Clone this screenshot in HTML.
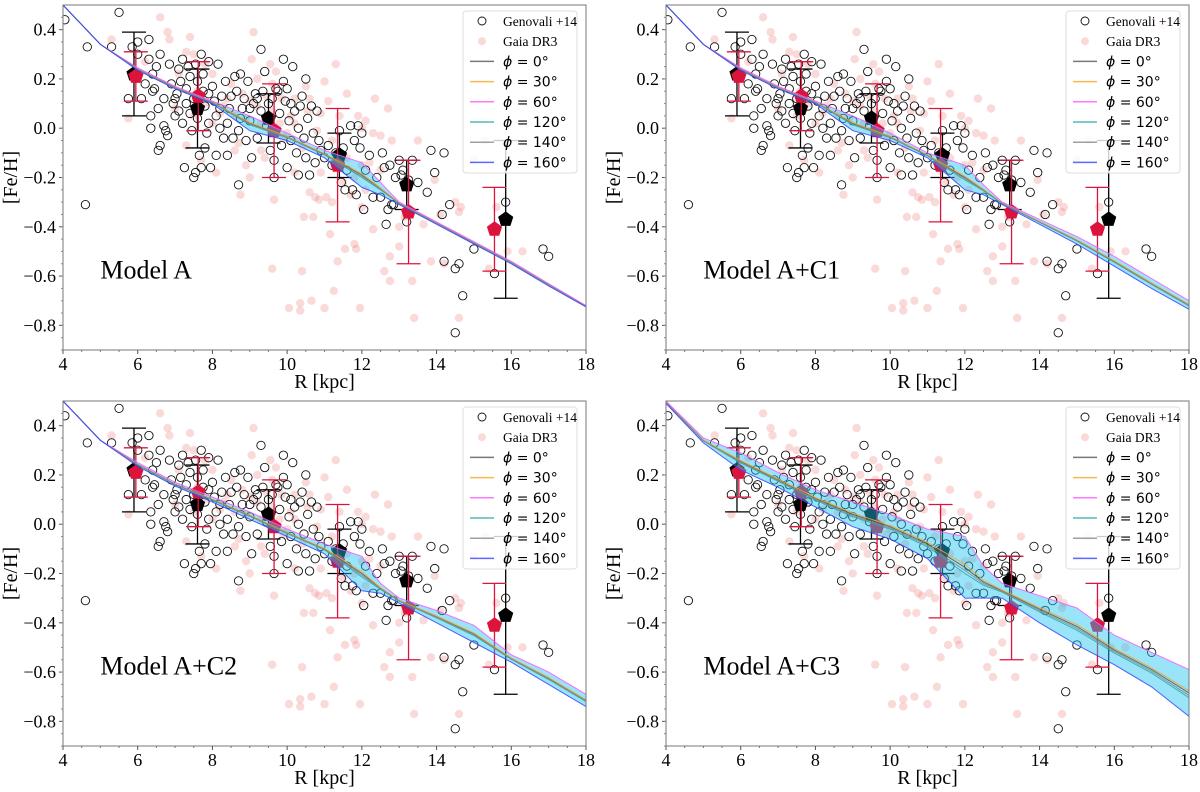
<!DOCTYPE html>
<html><head><meta charset="utf-8">
<style>
html,body{margin:0;padding:0;background:#fff;}
svg{display:block;}
</style></head>
<body>
<svg id="fig" width="1200" height="792" viewBox="0 0 1200 792" xmlns="http://www.w3.org/2000/svg"></svg>
<script>
// ---------------- data ----------------
const genovali = [[4.05,0.44],[4.65,0.33],[4.6,-0.31],[5.5,0.47],[5.3,0.33],[5.75,0.12],[5.85,0.33],[6.0,0.35],[6.0,0.30],[6.1,0.12],[6.2,0.18],[6.3,0.36],[6.3,0.28],[6.35,0.05],[6.35,0.0],[6.4,0.15],[6.4,0.22],[6.5,0.25],[6.55,0.08],[6.6,0.30],[6.55,-0.09],[6.6,-0.07],[6.7,0.01],[6.8,-0.03],[6.75,-0.01],[6.85,0.26],[6.7,0.12],[6.9,0.18],[6.95,0.10],[7.0,0.05],[7.05,0.14],[7.1,0.24],[7.15,0.19],[7.2,0.28],[7.2,0.02],[7.25,-0.16],[7.3,0.10],[7.3,0.16],[7.35,0.25],[7.4,0.21],[7.4,0.06],[7.45,-0.01],[7.5,-0.20],[7.55,-0.18],[7.5,0.12],[7.55,0.26],[7.6,0.19],[7.6,0.04],[7.65,-0.11],[7.7,-0.16],[7.7,0.30],[7.75,0.22],[7.75,0.15],[7.8,0.09],[7.8,-0.08],[7.85,-0.02],[7.9,0.27],[7.9,0.02],[7.95,-0.16],[8.0,0.17],[8.05,0.11],[8.1,0.05],[8.1,-0.11],[8.15,0.26],[8.2,0.0],[8.25,0.13],[8.3,-0.04],[8.35,0.19],[8.4,-0.11],[8.45,0.08],[8.5,0.13],[8.55,-0.04],[8.6,0.21],[8.65,0.15],[8.7,-0.01],[8.7,-0.23],[8.75,0.22],[8.8,0.08],[8.85,0.12],[8.9,-0.05],[8.95,0.19],[9.0,0.03],[9.05,-0.12],[9.1,0.1],[9.15,0.14],[9.2,-0.04],[9.3,0.32],[9.3,0.07],[9.35,0.15],[9.4,0.23],[9.45,0.01],[9.5,0.10],[9.55,-0.09],[9.6,0.12],[9.65,-0.20],[9.65,-0.13],[9.7,0.16],[9.75,0.15],[9.8,0.06],[9.85,-0.07],[9.9,0.28],[9.9,0.19],[9.95,0.11],[10.0,0.16],[10.0,-0.16],[10.05,0.03],[10.1,-0.05],[10.15,0.25],[10.2,0.07],[10.25,-0.1],[10.3,-0.19],[10.35,0.09],[10.4,0.13],[10.45,-0.04],[10.5,0.20],[10.5,-0.12],[10.55,0.04],[10.6,-0.19],[10.65,0.09],[10.7,-0.02],[10.75,-0.14],[10.8,0.07],[10.85,-0.05],[10.9,-0.09],[11.0,-0.12],[11.1,-0.07],[11.2,-0.15],[11.3,-0.10],[11.4,-0.01],[11.45,-0.22],[11.5,-0.08],[11.55,-0.25],[11.6,-0.17],[11.7,0.01],[11.75,-0.25],[11.8,-0.05],[11.85,-0.27],[11.9,0.01],[11.95,-0.08],[12.0,-0.02],[12.05,-0.33],[12.1,-0.17],[12.2,-0.11],[12.3,-0.28],[12.4,-0.20],[12.5,-0.28],[12.55,-0.10],[12.6,-0.16],[12.65,-0.39],[12.7,-0.33],[12.75,-0.15],[12.8,-0.31],[12.85,-0.31],[12.9,-0.20],[13.0,-0.13],[13.05,-0.19],[13.1,-0.17],[13.2,-0.38],[13.25,-0.21],[13.35,-0.13],[13.5,-0.22],[13.75,-0.26],[13.85,-0.09],[13.95,-0.18],[14.15,-0.35],[14.2,-0.10],[14.2,-0.54],[14.35,-0.31],[14.5,-0.57],[14.6,-0.55],[14.5,-0.83],[14.7,-0.68],[15.0,-0.49],[15.55,-0.59],[15.85,-0.30],[16.85,-0.49],[17.0,-0.52],[7.0,0.12],[7.1,0.07],[7.6,0.12],[8.2,0.08],[8.4,0.02],[9.0,0.08],[9.2,0.12],[7.9,0.14],[6.45,0.16],[8.75,0.04],[10.3,0.0],[10.1,0.1]];
const gaia = [[5.3,0.36],[5.75,0.04],[6.2,0.27],[6.6,0.45],[6.8,0.39],[6.85,0.36],[7.1,0.22],[7.3,0.31],[7.4,0.37],[7.5,0.30],[7.6,0.15],[7.8,0.26],[8.0,0.22],[8.1,-0.18],[8.2,0.06],[8.4,0.12],[8.5,0.18],[8.6,-0.09],[8.75,-0.27],[8.9,0.04],[9.0,-0.2],[9.05,0.28],[9.1,0.39],[9.2,0.09],[9.3,-0.09],[9.45,0.13],[9.55,0.26],[9.6,-0.57],[9.65,-0.29],[9.7,0.23],[9.8,0.02],[9.85,0.12],[10.0,-0.02],[10.05,-0.73],[10.1,0.05],[10.2,-0.18],[10.35,-0.71],[10.35,-0.74],[10.4,-0.58],[10.45,-0.36],[10.5,0.17],[10.55,0.07],[10.6,-0.26],[10.65,-0.70],[10.7,-0.36],[10.75,-0.28],[10.85,-0.29],[10.9,0.06],[11.0,0.19],[11.0,-0.73],[11.05,-0.28],[11.1,0.11],[11.15,-0.43],[11.2,-0.30],[11.25,-0.66],[11.3,0.26],[11.35,-0.54],[11.5,-0.22],[11.55,-0.49],[11.6,0.14],[11.7,-0.27],[11.8,-0.47],[11.85,-0.49],[11.9,0.05],[11.95,-0.73],[12.0,-0.32],[12.1,0.03],[12.2,-0.14],[12.3,-0.41],[12.35,0.12],[12.5,-0.03],[12.6,-0.58],[12.7,0.08],[12.75,-0.52],[12.75,-0.62],[12.8,-0.05],[13.0,-0.40],[13.0,-0.48],[13.15,-0.36],[13.35,-0.62],[13.4,-0.77],[13.5,-0.05],[13.65,-0.39],[13.85,-0.54],[13.95,-0.21],[14.1,-0.35],[14.2,-0.55],[14.5,-0.30],[14.6,-0.34],[14.6,-0.77],[14.65,-0.32],[15.0,-0.13],[15.3,-0.05],[15.4,-0.57],[15.6,-0.32],[15.9,-0.50],[16.3,-0.50],[16.85,-0.10],[17.3,0.42],[7.0,0.08],[7.5,0.05],[8.0,0.02],[8.3,0.09],[8.6,0.05],[9.0,0.11],[9.3,0.02],[9.6,0.07],[9.9,-0.04],[10.2,0.02],[10.4,-0.08],[10.8,-0.01],[11.2,-0.05],[11.6,-0.12],[12.0,-0.15],[12.3,-0.02],[12.0,0.0],[11.8,-0.2],[12.5,-0.17],[10.2,0.12],[9.6,0.18],[8.8,0.14],[7.8,0.1],[7.3,-0.07],[7.7,-0.13],[8.9,-0.15],[9.4,-0.12],[10.6,0.12],[11.4,0.05],[12.1,-0.25],[10.9,-0.18],[9.2,0.2],[8.7,-0.06]];
const binBlackR = [5.9,7.6,9.5,11.4,13.2,15.85];
const binBlackFe = [0.22,0.08,0.04,-0.11,-0.23,-0.37];
const binBlackErr = [0.17,0.16,0.10,0.09,0.10,0.32];
const binRedR = [5.95,7.62,9.65,11.35,13.25,15.55];
const binRedFe = [0.21,0.13,-0.01,-0.15,-0.34,-0.41];
const binRedErr = [0.10,0.14,0.19,0.23,0.21,0.17];
const modelR = [4,5,6,7,8,9,10,11,12,12.5,13,14,15,16,17,18];
const upperA  = [0.50,0.34,0.245,0.17,0.11,0.05,-0.02,-0.09,-0.14,-0.22,-0.30,-0.38,-0.46,-0.54,-0.63,-0.72];
const lowerA  = [0.50,0.34,0.235,0.16,0.10,-0.01,-0.05,-0.12,-0.24,-0.27,-0.31,-0.39,-0.47,-0.55,-0.64,-0.725];
const upperC1 = [0.50,0.34,0.245,0.17,0.11,0.05,-0.02,-0.10,-0.15,-0.23,-0.30,-0.37,-0.44,-0.52,-0.61,-0.70];
const lowerC1 = [0.50,0.34,0.235,0.16,0.10,-0.01,-0.05,-0.12,-0.25,-0.27,-0.31,-0.39,-0.47,-0.56,-0.65,-0.735];
const upperC2 = [0.50,0.34,0.25,0.17,0.11,0.05,-0.02,-0.08,-0.13,-0.24,-0.30,-0.35,-0.41,-0.53,-0.60,-0.69];
const lowerC2 = [0.50,0.34,0.235,0.155,0.09,0.02,-0.05,-0.12,-0.27,-0.28,-0.32,-0.40,-0.48,-0.56,-0.65,-0.74];
const upperC3 = [0.50,0.35,0.29,0.21,0.14,0.09,0.04,-0.02,-0.05,-0.17,-0.24,-0.29,-0.34,-0.45,-0.52,-0.59];
const lowerC3 = [0.49,0.33,0.22,0.15,0.07,-0.01,-0.06,-0.14,-0.30,-0.30,-0.30,-0.40,-0.49,-0.57,-0.66,-0.78];
const xTicks = [4,6,8,10,12,14,16,18];
const yTicks = [0.4,0.2,0.0,-0.2,-0.4,-0.6,-0.8];
const yTickLabels = ["0.4","0.2","0.0","\u22120.2","\u22120.4","\u22120.6","\u22120.8"];
const modelNames = ["Model A","Model A+C1","Model A+C2","Model A+C3"];
const legendPhi = ["0","30","60","120","140","160"];
const phiColors = ["#555555","#f5a623","#ff55ff","#2aa8a8","#888888","#3344ff"];
const phiMix = [0.5,0.45,0.0,0.6,0.55,1.0];

const NS = "http://www.w3.org/2000/svg";
const svg = document.getElementById('fig');
function mk(tag, attrs, parent){
  const e = document.createElementNS(NS, tag);
  for (const k in attrs) e.setAttribute(k, attrs[k]);
  (parent||svg).appendChild(e);
  return e;
}
const panels = [
  {x0:63,x1:586,y0:5,y1:350,up:upperA,lo:lowerA},
  {x0:666,x1:1189,y0:5,y1:350,up:upperC1,lo:lowerC1},
  {x0:63,x1:586,y0:401,y1:746,up:upperC2,lo:lowerC2},
  {x0:666,x1:1189,y0:401,y1:746,up:upperC3,lo:lowerC3}
];
const SERIF = '"Liberation Serif", serif';

panels.forEach((p, pi) => {
  const g = mk('g', {});
  
  
  const sx = v => p.x0 + (v-4)/(18-4)*(p.x1-p.x0);
  const sy = v => p.y0 + (0.5-v)/(1.4)*(p.y1-p.y0);
  const clipId = 'clip'+pi;
  const cp = mk('clipPath', {id:clipId}, g);
  mk('rect', {x:p.x0, y:p.y0, width:p.x1-p.x0, height:p.y1-p.y0}, cp);
  const plot = mk('g', {'clip-path':'url(#'+clipId+')'}, g);
  
  

  gaia.forEach(d => {
    const c = mk('circle', {cx:sx(d[0]), cy:sy(d[1]), r:4.2, fill:'#f08080', 'fill-opacity':0.3}, plot);
    
    
  });
  genovali.forEach(d => {
    const c = mk('circle', {cx:sx(d[0]), cy:sy(d[1]), r:4.2, fill:'none', stroke:'#111', 'stroke-width':0.9}, plot);
    
    
  });
  function pent(cx, cy, r){
    let pts=[];
    for(let k=0;k<5;k++){const a=-Math.PI/2+k*2*Math.PI/5; pts.push((cx+r*Math.cos(a)).toFixed(1)+','+(cy+r*Math.sin(a)).toFixed(1));}
    return pts.join(' ');
  }
  function bins(R, F, E, col, name){
    R.forEach((r,i)=>{
      const x=sx(r), yt=sy(F[i]+E[i]), yb=sy(F[i]-E[i]);
      const eb = mk('g', {stroke:col,'stroke-width':1.3}, plot);
      
      
      mk('line',{x1:x,y1:yt,x2:x,y2:yb},eb);
      mk('line',{x1:x-12,y1:yt,x2:x+12,y2:yt},eb);
      mk('line',{x1:x-12,y1:yb,x2:x+12,y2:yb},eb);
      const pg = mk('polygon',{points:pent(x,sy(F[i]),8),fill:col},plot);
      
      
    });
  }
  bins(binBlackR, binBlackFe, binBlackErr, '#000', 'genovali');
  bins(binRedR, binRedFe, binRedErr, '#dc143c', 'gaia');

  let d = modelR.map((r,i)=>(i?'L':'M')+sx(r).toFixed(1)+','+sy(p.up[i]).toFixed(1)).join(' ');
  for(let i=modelR.length-1;i>=0;i--) d += ' L'+sx(modelR[i]).toFixed(1)+','+sy(p.lo[i]).toFixed(1);
  const band = mk('path',{d:d+' Z',fill:'#1cc4f0','fill-opacity':0.45,stroke:'none'},plot);
  
  
  phiColors.forEach((col,k)=>{
    const m = phiMix[k];
    const ld = modelR.map((r,i)=>(i?'L':'M')+sx(r).toFixed(1)+','+sy(p.up[i]*(1-m)+p.lo[i]*m).toFixed(1)).join(' ');
    const ln = mk('path',{d:ld,fill:'none',stroke:col,'stroke-width':1,'stroke-opacity':0.85},plot);
    
    
  });

  const fr = mk('rect',{x:p.x0,y:p.y0,width:p.x1-p.x0,height:p.y1-p.y0,fill:'none',stroke:'#777','stroke-width':1},g);
  
  
  xTicks.forEach(t=>{
    const x=sx(t);
    mk('line',{x1:x,y1:p.y1,x2:x,y2:p.y1+4,stroke:'#555'},g);
    const tx=mk('text',{x:x,y:p.y1+20,'text-anchor':'middle','font-family':SERIF,'font-size':18,fill:'#000'},g);
    tx.textContent=t;
    
    
  });
  for(let t=4;t<=18;t+=0.5){ if(t%2) mk('line',{x1:sx(t),y1:p.y1,x2:sx(t),y2:p.y1+2,stroke:'#777'},g); }
  yTicks.forEach((t,i)=>{
    const y=sy(t);
    mk('line',{x1:p.x0-4,y1:y,x2:p.x0,y2:y,stroke:'#555'},g);
    const tx=mk('text',{x:p.x0-7,y:y+6,'text-anchor':'end','font-family':SERIF,'font-size':18,fill:'#000'},g);
    tx.textContent=yTickLabels[i];
    
    
  });
  for(let t=-0.9;t<=0.5;t+=0.05){ mk('line',{x1:p.x0-2,y1:sy(t),x2:p.x0,y2:sy(t),stroke:'#888'},g); }
  const xl=mk('text',{x:(p.x0+p.x1)/2,y:p.y1+38,'text-anchor':'middle','font-family':SERIF,'font-size':20},g);
  xl.textContent='R [kpc]';
  
  
  const yx=p.x0-46, yy=(p.y0+p.y1)/2;
  const yl=mk('text',{x:yx,y:yy,'text-anchor':'middle','font-family':SERIF,'font-size':20,transform:'rotate(-90 '+yx+' '+yy+')'},g);
  yl.textContent='[Fe/H]';
  
  
  const mn=mk('text',{x:sx(5.0),y:sy(-0.61),'font-family':SERIF,'font-size':26},g);
  mn.textContent=modelNames[pi];
  
  

  const lg = mk('g',{},g);
  
  
  const lx=p.x1-123, ly=p.y0+6;
  mk('rect',{x:lx,y:ly,width:114,height:162,rx:3,fill:'#fff','fill-opacity':0.8,stroke:'#ddd'},lg);
  const rowY = k => ly+10+k*20.2;
  mk('circle',{cx:lx+19,cy:rowY(0),r:4,fill:'none',stroke:'#111','stroke-width':0.9},lg);
  let t=mk('text',{x:lx+40,y:rowY(0)+5,'font-family':SERIF,'font-size':13.5},lg); t.textContent='Genovali +14';
  mk('circle',{cx:lx+19,cy:rowY(1),r:4,fill:'#f08080','fill-opacity':0.3},lg);
  t=mk('text',{x:lx+40,y:rowY(1)+5,'font-family':SERIF,'font-size':13.5},lg); t.textContent='Gaia DR3';
  legendPhi.forEach((ph,k)=>{
    const y=rowY(k+2);
    mk('line',{x1:lx+7,y1:y,x2:lx+31,y2:y,stroke:phiColors[k],'stroke-width':1.5,'stroke-opacity':0.8},lg);
    const e=mk('text',{x:lx+40,y:y+5,'font-family':'"DejaVu Sans", sans-serif','font-size':14},lg);
    e.innerHTML='<tspan font-style="italic">ϕ</tspan> = '+ph+'°';
    
    
  });
});
</script>
</body></html>
